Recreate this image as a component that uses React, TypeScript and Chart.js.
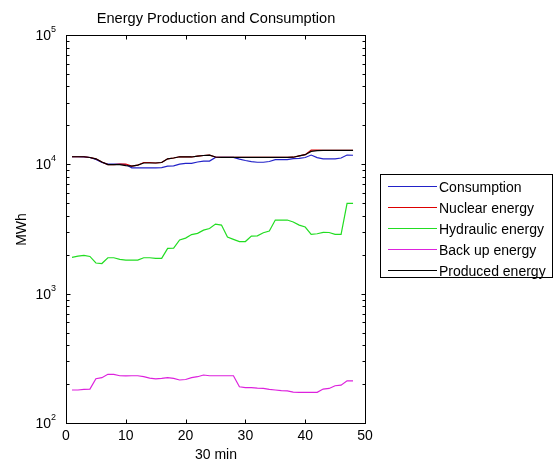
import React, { useEffect, useRef } from "react";
import { Chart, registerables } from "chart.js";

Chart.register(...registerables);

// ---- data ----
const halfHours = [
  1, 2, 3, 4, 5, 6, 7, 8, 9, 10, 11, 12, 13, 14, 15, 16, 17, 18, 19, 20, 21, 22, 23, 24,
  25, 26, 27, 28, 29, 30, 31, 32, 33, 34, 35, 36, 37, 38, 39, 40, 41, 42, 43, 44, 45, 46, 47, 48,
];
const consumption = [
  11450, 11450, 11400, 11300, 10900, 10330, 10050, 10050, 10050, 9960,
  9400, 9400, 9400, 9400, 9400, 9430, 9690, 9740, 10050, 10170,
  10170, 10420, 10600, 10600, 11300, 11300, 11300, 11300, 10960, 10700,
  10480, 10380, 10380, 10520, 10870, 10870, 10870, 11080, 11120, 11300,
  11800, 11260, 11030, 11030, 11030, 11190, 11800, 11750,
];
const nuclear = [
  11450, 11450, 11450, 11300, 11030, 10420, 9960, 9960, 10050, 10050,
  9700, 9850, 10330, 10330, 10240, 10330, 11030, 11190, 11450, 11400,
  11400, 11570, 11700, 11760, 11400, 11300, 11300, 11300, 11300, 11300,
  11300, 11300, 11300, 11300, 11300, 11300, 11300, 11350, 11620, 11870,
  12900, 12900, 12800, 12800, 12800, 12800, 12800, 12800,
];
const hydraulic = [
  1910, 1954, 1980, 1940, 1726, 1710, 1896, 1896, 1840, 1820,
  1820, 1820, 1896, 1896, 1875, 1875, 2240, 2250, 2600, 2690,
  2865, 2925, 3100, 3190, 3450, 3390, 2740, 2630, 2530, 2530,
  2790, 2800, 2960, 3050, 3710, 3710, 3710, 3580, 3390, 3275,
  2875, 2905, 2980, 2970, 2875, 2875, 4990, 4990,
];
const backup = [
  180, 180, 182, 183, 220, 224, 238, 238, 232, 231,
  232, 232, 228, 222, 219, 221, 224, 221, 215, 217,
  224, 228, 235, 232, 232, 232, 232, 232, 190.5, 188,
  187.5, 186, 185, 182, 180, 178, 177, 173.4, 172.5, 172.5,
  172.5, 172.5, 183, 185, 194, 196, 212, 212,
];
const produced = [
  11450, 11450, 11450, 11300, 11030, 10420, 9960, 9960, 9960, 9780,
  9700, 9850, 10240, 10240, 10240, 10330, 11030, 11190, 11450, 11400,
  11400, 11570, 11700, 11760, 11400, 11300, 11300, 11300, 11300, 11300,
  11300, 11300, 11300, 11300, 11300, 11300, 11300, 11350, 11620, 11870,
  12600, 12750, 12800, 12800, 12800, 12800, 12800, 12800,
];
const seriesLabels = ["Consumption", "Nuclear energy", "Hydraulic energy", "Back up energy", "Produced energy"];
const seriesColors = ["#2222c8", "#dd0000", "#22dd22", "#dd22dd", "#000000"];
const xTickValues = [0, 10, 20, 30, 40, 50];
const yDecadeExponents = [2, 3, 4, 5];
const chartTitle = "Energy Production and Consumption";
const xAxisTitle = "30 min";
const yAxisTitle = "MWh";

const FONT = '"Liberation Sans", Arial, sans-serif';

const decorPlugin = {
  id: "matlabDecor",
  beforeDraw(chart: any) {
    const ctx = chart.ctx;
    ctx.save();
    ctx.fillStyle = "#ffffff";
    ctx.fillRect(0, 0, chart.width, chart.height);
    ctx.restore();
  },
  afterDraw(chart: any) {
    const ctx = chart.ctx;
    const xs = chart.scales.x;
    const ys = chart.scales.y;
    const L = Math.round(xs.getPixelForValue(0)) + 0.5;
    const R = Math.round(xs.getPixelForValue(50)) + 0.5;
    const T = Math.round(ys.getPixelForValue(1e5)) + 0.5;
    const B = Math.round(ys.getPixelForValue(1e2)) + 0.5;
    ctx.save();
    ctx.strokeStyle = "#000";
    ctx.lineWidth = 1;
    ctx.strokeRect(L, T, R - L, B - T);
    ctx.beginPath();
    // x ticks
    xTickValues.forEach((v) => {
      const px = Math.round(xs.getPixelForValue(v)) + 0.5;
      ctx.moveTo(px, B);
      ctx.lineTo(px, B - 4);
      ctx.moveTo(px, T);
      ctx.lineTo(px, T + 4);
    });
    // y ticks (log)
    for (let d = 2; d < 5; d++) {
      for (let m = 1; m <= 9; m++) {
        const v = m * Math.pow(10, d);
        const py = Math.round(ys.getPixelForValue(v)) + 0.5;
        const len = m === 1 ? 4 : 3;
        ctx.moveTo(L, py);
        ctx.lineTo(L + len, py);
        ctx.moveTo(R, py);
        ctx.lineTo(R - len, py);
      }
    }
    ctx.stroke();

    ctx.fillStyle = "#000";
    // x tick labels
    ctx.font = `14px ${FONT}`;
    ctx.textAlign = "center";
    ctx.textBaseline = "alphabetic";
    xTickValues.forEach((v) => {
      const px = xs.getPixelForValue(v);
      ctx.fillText(String(v), px, 440);
    });
    // y tick labels 10^k
    yDecadeExponents.forEach((k) => {
      const py = ys.getPixelForValue(Math.pow(10, k));
      ctx.font = `14px ${FONT}`;
      ctx.textAlign = "right";
      ctx.fillText("10", 51, py + 5);
      ctx.font = `9px ${FONT}`;
      ctx.textAlign = "left";
      ctx.fillText(String(k), 51, py - 3);
    });
    // titles
    ctx.font = `14.6px ${FONT}`;
    ctx.textAlign = "center";
    ctx.fillText(chartTitle, (L + R) / 2, 23);
    ctx.font = `14px ${FONT}`;
    ctx.fillText(xAxisTitle, (L + R) / 2, 459);
    ctx.save();
    ctx.translate(26, (T + B) / 2);
    ctx.rotate(-Math.PI / 2);
    ctx.fillText(yAxisTitle, 0, 0);
    ctx.restore();

    // legend
    const lx = 380.5, ly = 174.5, lw = 172, lh = 103;
    ctx.fillStyle = "#fff";
    ctx.fillRect(lx, ly, lw, lh);
    ctx.strokeStyle = "#000";
    ctx.strokeRect(lx, ly, lw, lh);
    ctx.textAlign = "left";
    chart.data.datasets.forEach((ds: any, i: number) => {
      const yy = 186.5 + i * 21;
      ctx.strokeStyle = ds.borderColor;
      ctx.beginPath();
      ctx.moveTo(388, yy);
      ctx.lineTo(437, yy);
      ctx.stroke();
      ctx.fillStyle = "#000";
      ctx.fillText(ds.label, 439, yy + 5);
    });
    ctx.restore();
  },
};

export default function App() {
  const ref = useRef<HTMLCanvasElement | null>(null);
  useEffect(() => {
    document.body.style.margin = "0";
    const series = [consumption, nuclear, hydraulic, backup, produced];
    const chart = new Chart(ref.current as HTMLCanvasElement, {
      type: "line",
      data: {
        datasets: series.map((arr, i) => ({
          label: seriesLabels[i],
          data: arr.map((v, j) => ({ x: halfHours[j], y: v })),
          borderColor: seriesColors[i],
          backgroundColor: seriesColors[i],
          borderWidth: 1.2,
          pointRadius: 0,
          tension: 0,
          fill: false,
          order: 5 - i,
        })),
      },
      options: {
        responsive: false,
        animation: false,
        devicePixelRatio: 1,
        layout: { padding: { left: 66, top: 35, right: 194, bottom: 38 } },
        plugins: { legend: { display: false }, title: { display: false }, tooltip: { enabled: false } },
        scales: {
          x: { type: "linear", min: 0, max: 50, display: false },
          y: { type: "logarithmic", min: 100, max: 100000, display: false },
        },
      },
      plugins: [decorPlugin],
    });
    return () => chart.destroy();
  }, []);
  return (
    <div style={{ position: "absolute", left: 0, top: 0, width: 559, height: 461 }}>
      <canvas ref={ref} width={559} height={461} />
    </div>
  );
}
